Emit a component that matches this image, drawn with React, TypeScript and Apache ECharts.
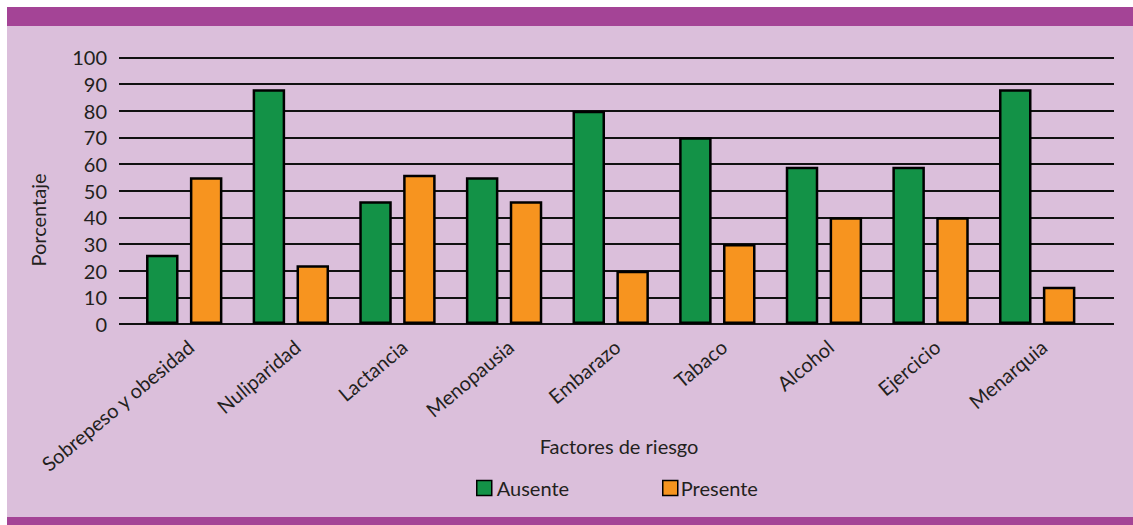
import React, { useEffect, useRef } from "react";
import * as echarts from "echarts";

const categories = [
  "Sobrepeso y obesidad",
  "Nuliparidad",
  "Lactancia",
  "Menopausia",
  "Embarazo",
  "Tabaco",
  "Alcohol",
  "Ejercicio",
  "Menarquia",
];
const ausente = [26, 88, 46, 55, 80, 70, 59, 59, 88];
const presente = [55, 22, 56, 46, 20, 30, 40, 40, 14];
const seriesNames = ["Ausente", "Presente"];
const yTitle = "Porcentaje";
const xTitle = "Factores de riesgo";

const FONT = "Lato";
const TXT = "#231f20";

export default function App() {
  const ref = useRef<HTMLDivElement>(null);
  useEffect(() => {
    if (!ref.current) return;
    const chart = echarts.init(ref.current, null, { renderer: "svg" });
    const gridTop = 50.3;
    const gridBottom = 201;
    chart.setOption({
      animation: false,
      backgroundColor: "#dbbfdb",
      textStyle: { fontFamily: FONT },
      grid: [
        { left: 112, right: 19, top: gridTop, bottom: gridBottom },
        { left: 123.9, right: 42.5, top: gridTop, bottom: gridBottom },
      ],
      xAxis: [
        { gridIndex: 0, type: "category", data: categories, show: false },
        {
          gridIndex: 1,
          type: "category",
          data: categories,
          axisLine: { show: false },
          axisTick: { show: false },
          axisLabel: {
            interval: 0,
            rotate: 40,
            align: "right",
            verticalAlign: "top",
            margin: 12,
            fontSize: 20,
            fontFamily: FONT,
            color: TXT,
          },
        },
      ],
      yAxis: [
        {
          gridIndex: 0,
          type: "value",
          min: 0,
          max: 100,
          interval: 10,
          axisLine: { show: false },
          axisTick: { show: false },
          axisLabel: { margin: 12, fontSize: 20, fontFamily: FONT, color: TXT },
          splitLine: { lineStyle: { color: "#111", width: 2 } },
        },
        { gridIndex: 1, type: "value", min: 0, max: 100, interval: 10, show: false },
      ],
      legend: [
        {
          data: [seriesNames[0]],
          left: 469,
          top: 471,
          padding: 0,
          itemWidth: 15,
          itemHeight: 15,
          icon: "rect",
          itemStyle: { borderColor: "#000", borderWidth: 1.5 },
          textStyle: { fontSize: 20, fontFamily: FONT, color: TXT },
          selectedMode: false,
        },
        {
          data: [seriesNames[1]],
          left: 655,
          top: 471,
          padding: 0,
          itemWidth: 15,
          itemHeight: 15,
          icon: "rect",
          itemStyle: { borderColor: "#000", borderWidth: 1.5 },
          textStyle: { fontSize: 20, fontFamily: FONT, color: TXT, padding: [0, 0, 0, -2] },
          selectedMode: false,
        },
      ],
      graphic: [
        { type: "rect", shape: { x: 0, y: 0, width: 1126, height: 19 }, style: { fill: "#a44496" } },
        { type: "rect", shape: { x: 0, y: 510, width: 1126, height: 10 }, style: { fill: "#a44496" } },
        {
          type: "text",
          x: 30.5,
          y: 213,
          rotation: Math.PI / 2,
          style: {
            text: yTitle,
            fontSize: 20,
            fontFamily: FONT,
            fill: TXT,
            align: "center",
            verticalAlign: "middle",
          },
        },
        {
          type: "text",
          x: 612,
          y: 439,
          style: {
            text: xTitle,
            fontSize: 20,
            fontFamily: FONT,
            fill: TXT,
            align: "center",
            verticalAlign: "middle",
          },
        },
      ],
      series: [
        {
          name: seriesNames[0],
          type: "bar",
          xAxisIndex: 1,
          yAxisIndex: 1,
          data: ausente,
          barWidth: 32.5,
          barGap: "35%",
          itemStyle: { color: "#139247", borderColor: "#000", borderWidth: 2.5 },
        },
        {
          name: seriesNames[1],
          type: "bar",
          xAxisIndex: 1,
          yAxisIndex: 1,
          data: presente,
          barWidth: 32.5,
          barGap: "35%",
          itemStyle: { color: "#f7941f", borderColor: "#000", borderWidth: 2.5 },
        },
      ],
    });
    return () => chart.dispose();
  }, []);
  return (
    <div
      ref={ref}
      style={{ position: "absolute", left: 7, top: 7, width: 1126, height: 518 }}
    />
  );
}
